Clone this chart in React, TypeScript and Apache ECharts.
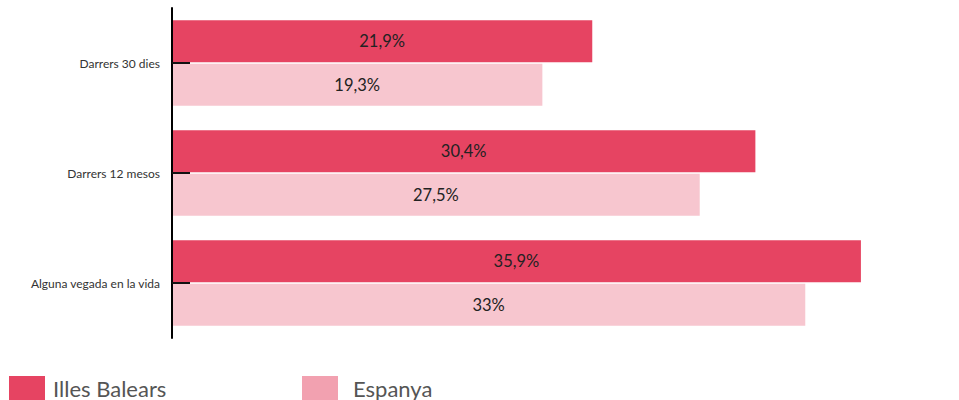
import React, { useEffect, useRef } from "react";
import * as echarts from "echarts";

const categories = ["Darrers 30 dies", "Darrers 12 mesos", "Alguna vegada en la vida"];
const seriesNames = ["Illes Balears", "Espanya"];
const balearsValues = [21.9, 30.4, 35.9];
const espanyaValues = [19.3, 27.5, 33];

const fmt = (v: number) => String(v).replace(".", ",") + "%";

export default function App() {
  const ref = useRef<HTMLDivElement>(null);
  useEffect(() => {
    document.body.style.margin = "0";
    const chart = echarts.init(ref.current!, null, { renderer: "svg" });
    const font = "Lato, 'Noto Sans', sans-serif";
    const legendBase = {
      top: 376,
      itemWidth: 36,
      itemHeight: 25,
      itemGap: 0,
      padding: 0,
      icon: "rect",
    };
    chart.setOption({
      animation: false,
      grid: { left: 172, top: 8, height: 330, width: 767.6 },
      xAxis: { type: "value", min: 0, max: 40, show: false },
      yAxis: {
        type: "category",
        data: categories,
        inverse: true,
        z: 10,
        axisLine: { show: true, lineStyle: { color: "#000", width: 2 } },
        axisTick: { show: true, inside: true, length: 18, interval: 0, alignWithLabel: true, lineStyle: { color: "#111", width: 2 } },
        axisLabel: { color: "#333", fontSize: 12, fontFamily: font, margin: 12 },
        splitLine: { show: false },
      },
      legend: [
        {
          ...legendBase,
          left: 9,
          data: [{ name: seriesNames[0], itemStyle: { color: "#E64462" } }],
          textStyle: { fontSize: 22, color: "#555", fontFamily: font, padding: [6, 0, 0, 3] },
        },
        {
          ...legendBase,
          left: 302,
          data: [{ name: seriesNames[1], itemStyle: { color: "#F2A1B0" } }],
          textStyle: { fontSize: 22, color: "#555", fontFamily: font, padding: [6, 0, 0, 10] },
        },
      ],
      series: [
        {
          name: seriesNames[0],
          type: "bar",
          z: 1,
          data: balearsValues,
          barWidth: 42,
          barGap: "3%",
          itemStyle: { color: "#E64462" },
          label: { show: true, position: "inside", color: "#222", fontSize: 16.5, fontFamily: font, formatter: (p: any) => fmt(p.value) },
        },
        {
          name: seriesNames[1],
          type: "bar",
          z: 1,
          data: espanyaValues,
          barWidth: 42,
          barGap: "3%",
          itemStyle: { color: "#F7C6CF" },
          label: { show: true, position: "inside", color: "#222", fontSize: 16.5, fontFamily: font, formatter: (p: any) => fmt(p.value) },
        },
      ],
    });
    return () => chart.dispose();
  }, []);
  return <div ref={ref} style={{ width: 959, height: 400 }} />;
}
